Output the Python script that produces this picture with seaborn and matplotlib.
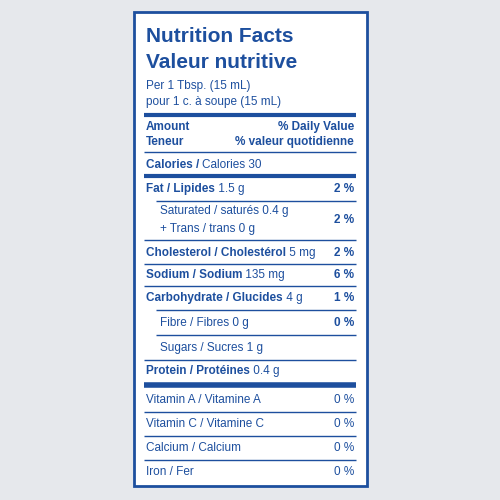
import matplotlib
matplotlib.use("Agg")
import matplotlib.pyplot as plt
import seaborn as sns

sns.set_theme(style="white")
plt.rcParams['font.family'] = ['Liberation Sans', 'DejaVu Sans']

BLUE = "#1d4f9e"
title_en = "Nutrition Facts"
title_fr = "Valeur nutritive"
serving = ["Per 1 Tbsp. (15 mL)", "pour 1 c. à soupe (15 mL)"]

# rows: bold part, normal part, percent, indent
row_bold = ["Calories / ", "Fat / Lipides", "", "Cholesterol / Cholestérol", "Sodium / Sodium",
            "Carbohydrate / Glucides", "", "", "Protein / Protéines",
            "", "", "", ""]
row_norm = ["Calories 30", " 1.5 g", "Saturated / saturés 0.4 g\n+ Trans / trans 0 g", " 5 mg", " 135 mg",
            " 4 g", "Fibre / Fibres 0 g", "Sugars / Sucres 1 g", " 0.4 g",
            "Vitamin A / Vitamine A", "Vitamin C / Vitamine C", "Calcium / Calcium", "Iron / Fer"]
row_pct = ["", "2 %", "2 %", "2 %", "6 %", "1 %", "0 %", "", "", "0 %", "0 %", "0 %", "0 %"]
row_indent = [0, 0, 1, 0, 0, 0, 1, 1, 0, 0, 0, 0, 0]
row_y = [165, 189, 220, 253, 275, 298, 323, 348, 371, 400, 424, 448, 472]
line_y = [176, 201, 240, 264, 286, 310, 335, 360, 385, 412, 436, 460]
line_w = [3, 1, 1, 1, 1, 1, 1, 1, 4, 1, 1, 1]
line_indent = [0, 1, 0, 0, 0, 1, 1, 0, 0, 0, 0, 0]

fig = plt.figure(figsize=(5, 5), dpi=100)
fig.patch.set_facecolor("#e6e8ec")
ax = fig.add_axes([0, 0, 1, 1])
ax.set_xlim(0, 500); ax.set_ylim(500, 0); ax.axis("off")
ax.add_patch(plt.Rectangle((134, 12), 233, 474, facecolor="white", edgecolor=BLUE, lw=2))

ax.text(146, 37, title_en, color=BLUE, fontsize=15, fontweight="bold", va="center")
ax.text(146, 62, title_fr, color=BLUE, fontsize=15, fontweight="bold", va="center")
ax.text(146, 86, serving[0], color=BLUE, fontsize=8.5, va="center")
ax.text(146, 102, serving[1], color=BLUE, fontsize=8.5, va="center")
ax.hlines(115, 144, 356, color=BLUE, lw=3)
ax.text(146, 127, "Amount", color=BLUE, fontsize=8.5, fontweight="bold", va="center")
ax.text(146, 142, "Teneur", color=BLUE, fontsize=8.5, fontweight="bold", va="center")
ax.text(354, 127, "% Daily Value", color=BLUE, fontsize=8.5, fontweight="bold", va="center", ha="right")
ax.text(354, 142, "% valeur quotidienne", color=BLUE, fontsize=8.5, fontweight="bold", va="center", ha="right")
ax.hlines(152, 144, 356, color=BLUE, lw=1)

for b, n, p, ind, y in zip(row_bold, row_norm, row_pct, row_indent, row_y):
    x = 160 if ind else 146
    if b:
        t = ax.text(x, y, b, color=BLUE, fontsize=8.5, fontweight="bold", va="center")
        fig.canvas.draw()
        bb = t.get_window_extent()
        x2 = bb.x1
        ax.text(x2, 500 - y, n, color=BLUE, fontsize=8.5, va="center", transform=None)
    else:
        ax.text(x, y, n, color=BLUE, fontsize=8.5, va="center", linespacing=1.6)
    if p:
        ax.text(354, y, p, color=BLUE, fontsize=8.5, va="center", ha="right",
                fontweight="bold" if y < 390 else "normal")

for y, w, ind in zip(line_y, line_w, line_indent):
    ax.hlines(y, 156 if ind else 144, 356, color=BLUE, lw=w)

fig.savefig("out.png", dpi=100, facecolor=fig.get_facecolor())
